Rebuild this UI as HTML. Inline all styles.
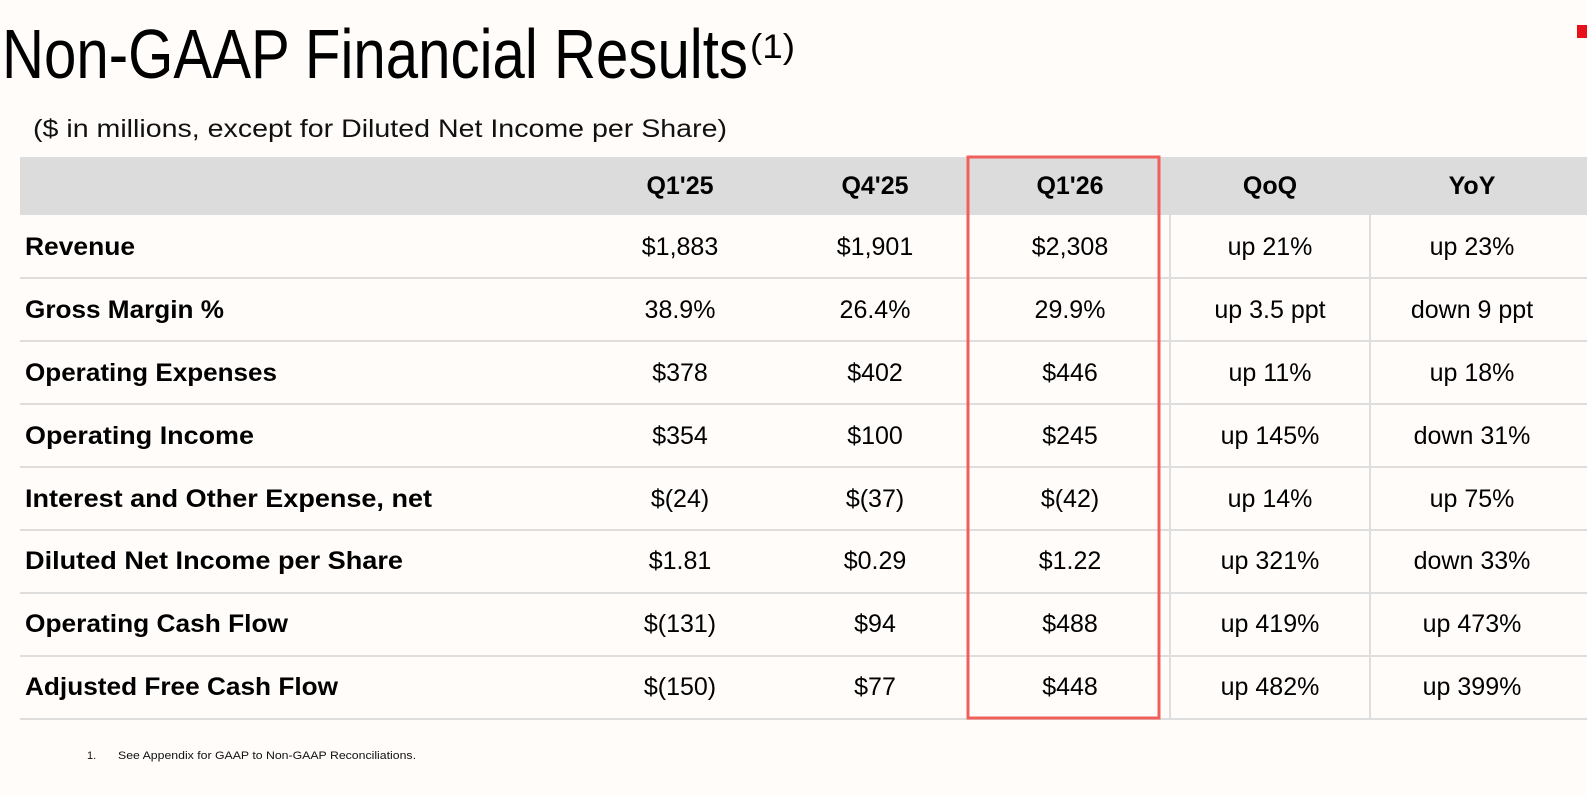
<!DOCTYPE html>
<html><head><meta charset="utf-8"><style>
html,body{margin:0;padding:0;background:#fffcfa;}
svg{display:block;font-family:"Liberation Sans",sans-serif;}
</style></head><body>
<svg width="1587" height="795" viewBox="0 0 1587 795" xmlns="http://www.w3.org/2000/svg">
<rect width="1587" height="795" fill="#fffcfa"/>
<rect x="1577" y="25" width="10" height="13" fill="#e8101a"/>
<text x="2" y="78" font-size="70" textLength="746" lengthAdjust="spacingAndGlyphs" fill="#000">Non-GAAP Financial Results</text>
<text x="750" y="58" font-size="34" textLength="45" lengthAdjust="spacingAndGlyphs" fill="#000">(1)</text>
<text x="33" y="137" font-size="25" textLength="694" lengthAdjust="spacingAndGlyphs" fill="#111">($ in millions, except for Diluted Net Income per Share)</text>
<rect x="20" y="157" width="1567" height="58" fill="#dcdcdc"/>
<g stroke="#dedede" stroke-width="2">
<line x1="20" y1="278" x2="1587" y2="278"/><line x1="20" y1="341" x2="1587" y2="341"/>
<line x1="20" y1="404" x2="1587" y2="404"/><line x1="20" y1="467" x2="1587" y2="467"/>
<line x1="20" y1="530" x2="1587" y2="530"/><line x1="20" y1="593" x2="1587" y2="593"/>
<line x1="20" y1="656" x2="1587" y2="656"/><line x1="20" y1="719" x2="1587" y2="719"/>
<line x1="1170" y1="215" x2="1170" y2="719"/><line x1="1370" y1="215" x2="1370" y2="719"/>
</g>
<g font-size="25" font-weight="bold" text-anchor="middle" fill="#000">
<text x="680" y="194">Q1'25</text><text x="875" y="194">Q4'25</text><text x="1070" y="194">Q1'26</text>
<text x="1270" y="194">QoQ</text><text x="1472" y="194">YoY</text>
</g>
<g font-size="25" font-weight="bold" fill="#000" lengthAdjust="spacingAndGlyphs">
<text x="25" y="255" textLength="110" lengthAdjust="spacingAndGlyphs">Revenue</text>
<text x="25" y="318" textLength="199" lengthAdjust="spacingAndGlyphs">Gross Margin %</text>
<text x="25" y="381" textLength="252" lengthAdjust="spacingAndGlyphs">Operating Expenses</text>
<text x="25" y="444" textLength="229" lengthAdjust="spacingAndGlyphs">Operating Income</text>
<text x="25" y="507" textLength="407" lengthAdjust="spacingAndGlyphs">Interest and Other Expense, net</text>
<text x="25" y="569" textLength="378" lengthAdjust="spacingAndGlyphs">Diluted Net Income per Share</text>
<text x="25" y="632" textLength="263" lengthAdjust="spacingAndGlyphs">Operating Cash Flow</text>
<text x="25" y="695" textLength="313" lengthAdjust="spacingAndGlyphs">Adjusted Free Cash Flow</text>
</g>
<g font-size="25" text-anchor="middle" fill="#000">
<text x="680" y="255">$1,883</text><text x="875" y="255">$1,901</text><text x="1070" y="255">$2,308</text><text x="1270" y="255">up 21%</text><text x="1472" y="255">up 23%</text>
<text x="680" y="318">38.9%</text><text x="875" y="318">26.4%</text><text x="1070" y="318">29.9%</text><text x="1270" y="318">up 3.5 ppt</text><text x="1472" y="318">down 9 ppt</text>
<text x="680" y="381">$378</text><text x="875" y="381">$402</text><text x="1070" y="381">$446</text><text x="1270" y="381">up 11%</text><text x="1472" y="381">up 18%</text>
<text x="680" y="444">$354</text><text x="875" y="444">$100</text><text x="1070" y="444">$245</text><text x="1270" y="444">up 145%</text><text x="1472" y="444">down 31%</text>
<text x="680" y="507">$(24)</text><text x="875" y="507">$(37)</text><text x="1070" y="507">$(42)</text><text x="1270" y="507">up 14%</text><text x="1472" y="507">up 75%</text>
<text x="680" y="569">$1.81</text><text x="875" y="569">$0.29</text><text x="1070" y="569">$1.22</text><text x="1270" y="569">up 321%</text><text x="1472" y="569">down 33%</text>
<text x="680" y="632">$(131)</text><text x="875" y="632">$94</text><text x="1070" y="632">$488</text><text x="1270" y="632">up 419%</text><text x="1472" y="632">up 473%</text>
<text x="680" y="695">$(150)</text><text x="875" y="695">$77</text><text x="1070" y="695">$448</text><text x="1270" y="695">up 482%</text><text x="1472" y="695">up 399%</text>
</g>
<rect x="968" y="157" width="191" height="561" fill="none" stroke="#f0605a" stroke-width="3"/>
<text x="87" y="759" font-size="11" fill="#111">1.</text>
<text x="118" y="759" font-size="11" textLength="298" lengthAdjust="spacingAndGlyphs" fill="#111">See Appendix for GAAP to Non-GAAP Reconciliations.</text>
</svg>
</body></html>
